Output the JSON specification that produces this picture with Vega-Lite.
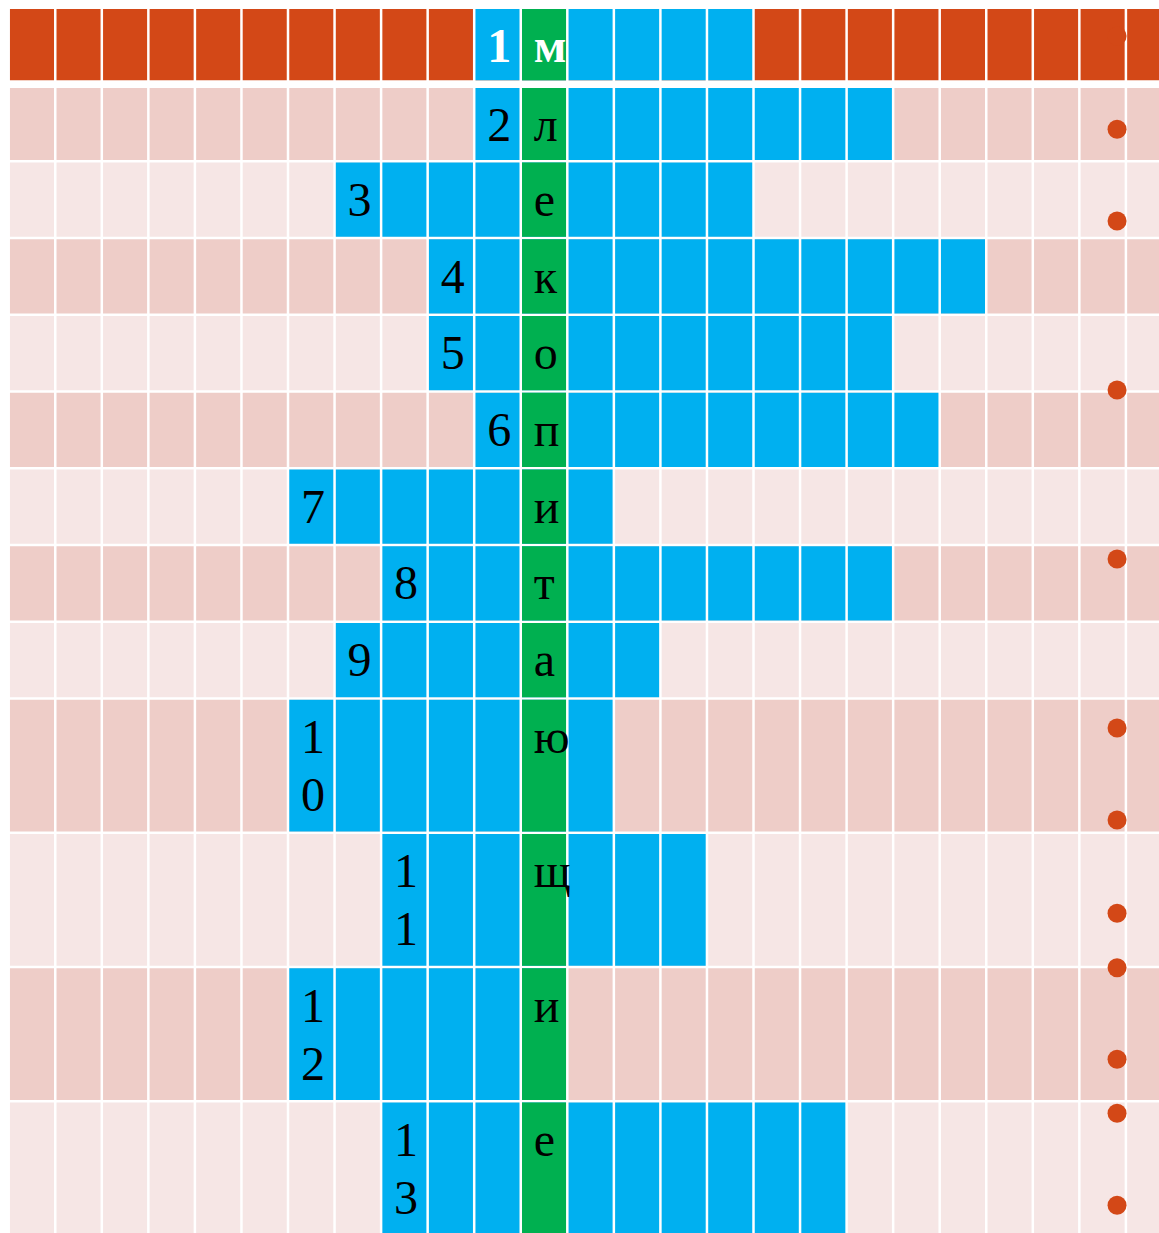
{
  "$schema": "https://vega.github.io/schema/vega-lite/v6.json",
  "width": 1159,
  "height": 1233,
  "autosize": {"type": "fit", "contains": "padding"},
  "padding": 0,
  "background": "#FFFFFF",
  "config": {"view": {"stroke": null}},
  "datasets": {
    "words": [
      {"row": 1, "num": 1, "letter": "м", "start": 10, "end": 16, "y0": 0, "y1": 0.96, "shade": "header"},
      {"row": 2, "num": 2, "letter": "л", "start": 10, "end": 19, "y0": 1.03, "y1": 2, "shade": "dark"},
      {"row": 3, "num": 3, "letter": "е", "start": 7, "end": 16, "y0": 2, "y1": 3, "shade": "light"},
      {"row": 4, "num": 4, "letter": "к", "start": 9, "end": 21, "y0": 3, "y1": 4, "shade": "dark"},
      {"row": 5, "num": 5, "letter": "о", "start": 9, "end": 19, "y0": 4, "y1": 5, "shade": "light"},
      {"row": 6, "num": 6, "letter": "п", "start": 10, "end": 20, "y0": 5, "y1": 6, "shade": "dark"},
      {"row": 7, "num": 7, "letter": "и", "start": 6, "end": 13, "y0": 6, "y1": 7, "shade": "light"},
      {"row": 8, "num": 8, "letter": "т", "start": 8, "end": 19, "y0": 7, "y1": 8, "shade": "dark"},
      {"row": 9, "num": 9, "letter": "а", "start": 7, "end": 14, "y0": 8, "y1": 9, "shade": "light"},
      {"row": 10, "num": 10, "letter": "ю", "start": 6, "end": 13, "y0": 9, "y1": 10.75, "shade": "dark"},
      {"row": 11, "num": 11, "letter": "щ", "start": 8, "end": 15, "y0": 10.75, "y1": 12.5, "shade": "light"},
      {"row": 12, "num": 12, "letter": "и", "start": 6, "end": 12, "y0": 12.5, "y1": 14.25, "shade": "dark"},
      {"row": 13, "num": 13, "letter": "е", "start": 8, "end": 18, "y0": 14.25, "y1": 16, "shade": "light"}
    ],
    "columns": [
      {"c": 0}, {"c": 1}, {"c": 2}, {"c": 3}, {"c": 4}, {"c": 5}, {"c": 6}, {"c": 7}, {"c": 8},
      {"c": 9}, {"c": 10}, {"c": 11}, {"c": 12}, {"c": 13}, {"c": 14}, {"c": 15}, {"c": 16},
      {"c": 17}, {"c": 18}, {"c": 19}, {"c": 20}, {"c": 21}, {"c": 22}, {"c": 23}, {"c": 24}, {"c": 25}
    ],
    "bullets": [
      {"col": 23.81, "pos": 0.367},
      {"col": 23.81, "pos": 1.583},
      {"col": 23.81, "pos": 2.778},
      {"col": 23.81, "pos": 4.98},
      {"col": 23.81, "pos": 7.183},
      {"col": 23.81, "pos": 9.385},
      {"col": 23.81, "pos": 10.584},
      {"col": 23.81, "pos": 11.8},
      {"col": 23.81, "pos": 12.509},
      {"col": 23.81, "pos": 13.702},
      {"col": 23.81, "pos": 14.406},
      {"col": 23.81, "pos": 15.605}
    ]
  },
  "data": {"name": "words"},
  "layer": [
    {
      "mark": {"type": "rect", "clip": true, "yOffset": 1.25, "y2Offset": -1.25},
      "encoding": {
        "x": {"datum": 0, "type": "quantitative",
              "scale": {"domain": [-0.187, 24.711], "nice": false, "zero": false}, "axis": null},
        "x2": {"datum": 25},
        "y": {"field": "y0", "type": "quantitative",
              "scale": {"domain": [-0.1016, 15.966], "reverse": true, "nice": false, "zero": false},
              "axis": null},
        "y2": {"field": "y1"},
        "color": {"field": "shade", "type": "nominal",
                  "scale": {"domain": ["header", "dark", "light"], "range": ["#D34817", "#EECDC8", "#F6E6E5"]},
                  "legend": null}
      }
    },
    {
      "mark": {"type": "rect", "clip": true, "color": "#00B0F0", "yOffset": 1.25, "y2Offset": -1.25},
      "encoding": {
        "x": {"field": "start", "type": "quantitative",
              "scale": {"domain": [-0.187, 24.711], "nice": false, "zero": false}, "axis": null},
        "x2": {"field": "end"},
        "y": {"field": "y0", "type": "quantitative",
              "scale": {"domain": [-0.1016, 15.966], "reverse": true, "nice": false, "zero": false}, "axis": null},
        "y2": {"field": "y1"}
      }
    },
    {
      "mark": {"type": "rect", "clip": true, "color": "#00B050", "yOffset": 1.25, "y2Offset": -1.25},
      "encoding": {
        "x": {"datum": 11, "type": "quantitative",
              "scale": {"domain": [-0.187, 24.711], "nice": false, "zero": false}, "axis": null},
        "x2": {"datum": 12},
        "y": {"field": "y0", "type": "quantitative",
              "scale": {"domain": [-0.1016, 15.966], "reverse": true, "nice": false, "zero": false}, "axis": null},
        "y2": {"field": "y1"}
      }
    },
    {
      "data": {"name": "columns"},
      "mark": {"type": "rule", "color": "#FFFFFF", "strokeWidth": 2.5, "opacity": 1, "clip": true},
      "encoding": {
        "x": {"field": "c", "type": "quantitative",
              "scale": {"domain": [-0.187, 24.711], "nice": false, "zero": false}, "axis": null}
      }
    },
    {
      "data": {"name": "bullets"},
      "mark": {"type": "point", "shape": "circle", "filled": true, "opacity": 1, "size": 361, "color": "#D34817", "clip": true},
      "encoding": {
        "x": {"field": "col", "type": "quantitative",
              "scale": {"domain": [-0.187, 24.711], "nice": false, "zero": false}, "axis": null},
        "y": {"field": "pos", "type": "quantitative",
              "scale": {"domain": [-0.1016, 15.966], "reverse": true, "nice": false, "zero": false}, "axis": null}
      }
    },
    {
      "transform": [
        {"filter": "datum.row > 1"},
        {"calculate": "split(toString(datum.num), '')", "as": "lines"}
      ],
      "mark": {"type": "text", "align": "left", "baseline": "alphabetic", "dx": 13, "dy": 54.5,
               "font": "Liberation Serif", "fontSize": 48, "lineHeight": 58, "color": "#000000"},
      "encoding": {
        "x": {"field": "start", "type": "quantitative",
              "scale": {"domain": [-0.187, 24.711], "nice": false, "zero": false}, "axis": null},
        "y": {"field": "y0", "type": "quantitative",
              "scale": {"domain": [-0.1016, 15.966], "reverse": true, "nice": false, "zero": false}, "axis": null},
        "text": {"field": "lines", "type": "nominal"}
      }
    },
    {
      "transform": [{"filter": "datum.row > 1"}],
      "mark": {"type": "text", "align": "left", "baseline": "alphabetic", "dx": 13, "dy": 54.5,
               "font": "Liberation Serif", "fontSize": 48, "color": "#000000"},
      "encoding": {
        "x": {"datum": 11, "type": "quantitative",
              "scale": {"domain": [-0.187, 24.711], "nice": false, "zero": false}, "axis": null},
        "y": {"field": "y0", "type": "quantitative",
              "scale": {"domain": [-0.1016, 15.966], "reverse": true, "nice": false, "zero": false}, "axis": null},
        "text": {"field": "letter", "type": "nominal"}
      }
    },
    {
      "transform": [{"filter": "datum.row == 1"}],
      "mark": {"type": "text", "align": "left", "baseline": "alphabetic", "dx": 13, "dy": 54.5,
               "font": "Liberation Serif", "fontSize": 48, "fontWeight": "bold", "color": "#FFFFFF"},
      "encoding": {
        "x": {"field": "start", "type": "quantitative",
              "scale": {"domain": [-0.187, 24.711], "nice": false, "zero": false}, "axis": null},
        "y": {"field": "y0", "type": "quantitative",
              "scale": {"domain": [-0.1016, 15.966], "reverse": true, "nice": false, "zero": false}, "axis": null},
        "text": {"field": "num", "type": "nominal"}
      }
    },
    {
      "transform": [{"filter": "datum.row == 1"}],
      "mark": {"type": "text", "align": "left", "baseline": "alphabetic", "dx": 13, "dy": 54.5,
               "font": "Liberation Serif", "fontSize": 48, "fontWeight": "bold", "color": "#FFFFFF"},
      "encoding": {
        "x": {"datum": 11, "type": "quantitative",
              "scale": {"domain": [-0.187, 24.711], "nice": false, "zero": false}, "axis": null},
        "y": {"field": "y0", "type": "quantitative",
              "scale": {"domain": [-0.1016, 15.966], "reverse": true, "nice": false, "zero": false}, "axis": null},
        "text": {"field": "letter", "type": "nominal"}
      }
    }
  ]
}
